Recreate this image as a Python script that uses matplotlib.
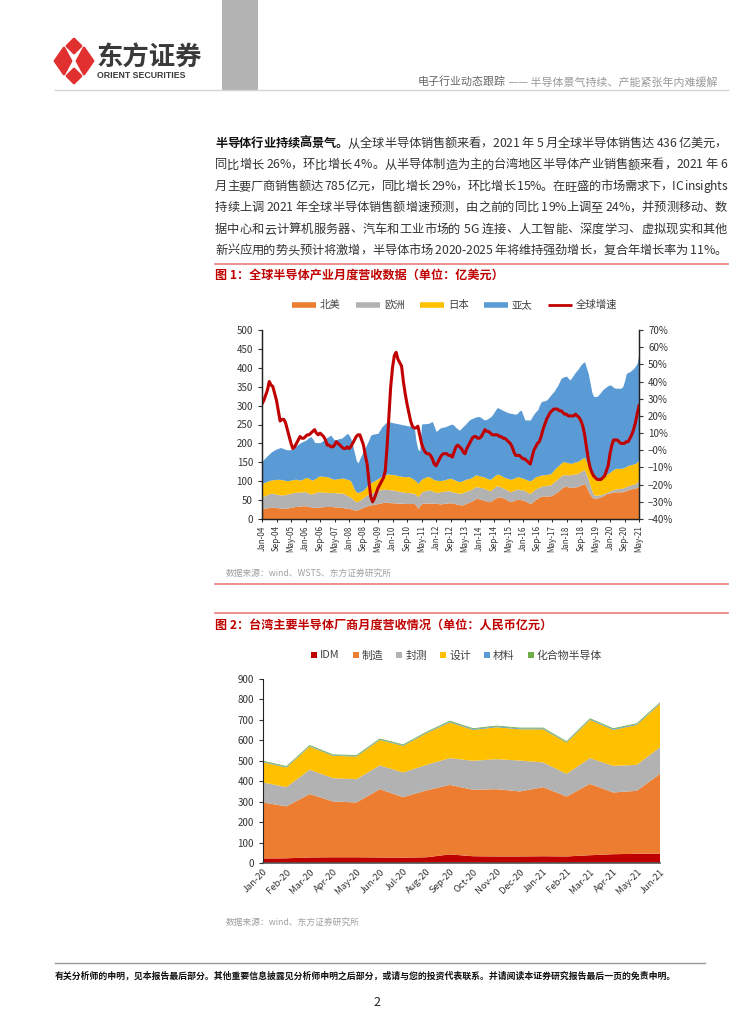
import matplotlib
matplotlib.use('Agg')
import matplotlib.pyplot as plt
import matplotlib.patches as mpatches
import matplotlib.ticker as mticker
import numpy as np
import pandas as pd

plt.rcParams['font.family'] = ['Noto Sans CJK SC', 'DejaVu Sans']

W, H = 754, 1024
RED = '#c00000'
ORANGE = '#ED7D31'
GRAY = '#B2B2B2'
YELLOW = '#FFC000'
BLUE = '#5B9BD5'
GREEN = '#70AD47'

# ---- figure 1: global monthly semiconductor sales (cumulative stack tops, 亿美元) ----
months1 = pd.date_range('2004-01-01', '2021-05-01', freq='MS').strftime('%b-%y').tolist()
na_top = [27, 28, 29, 30, 30, 31, 31, 31, 30, 30, 29, 29,
          28, 28, 29, 30, 31, 32, 33, 33, 34, 34, 35, 35,
          35, 34, 33, 32, 31, 31, 31, 31, 32, 32, 33, 33,
          33, 33, 33, 33, 32, 32, 32, 31, 31, 30, 29, 28,
          28, 27, 25, 24, 24, 25, 27, 29, 31, 33, 35, 36,
          37, 38, 39, 40, 41, 42, 43, 44, 44, 44, 44, 43,
          43, 43, 42, 42, 42, 42, 42, 41, 41, 41, 41, 41,
          41, 36, 28, 35, 41, 42, 42, 42, 42, 42, 42, 42,
          42, 41, 40, 40, 41, 42, 42, 43, 43, 42, 41, 40,
          39, 38, 37, 38, 40, 42, 44, 46, 48, 51, 54, 55,
          53, 52, 50, 49, 47, 46, 46, 50, 53, 56, 58, 58,
          57, 56, 54, 51, 48, 46, 47, 49, 51, 52, 52, 51,
          50, 48, 46, 43, 41, 44, 48, 52, 55, 58, 60, 61,
          61, 61, 61, 61, 63, 66, 69, 72, 76, 80, 84, 86,
          86, 85, 84, 84, 85, 85, 86, 88, 90, 92, 94, 85,
          74, 65, 58, 55, 55, 56, 57, 59, 61, 64, 67, 68,
          69, 70, 71, 72, 72, 72, 72, 72, 74, 76, 77, 79,
          80, 81, 82, 84, 86]
eu_top = [59, 61, 63, 65, 67, 68, 68, 67, 66, 65, 64, 64,
          64, 65, 66, 67, 68, 70, 70, 71, 71, 72, 72, 72,
          72, 70, 68, 66, 67, 69, 71, 72, 72, 71, 71, 71,
          70, 70, 70, 70, 70, 69, 69, 69, 68, 68, 65, 62,
          60, 58, 53, 48, 46, 47, 50, 53, 57, 61, 64, 66,
          68, 70, 72, 74, 76, 77, 78, 79, 79, 78, 78, 77,
          77, 76, 75, 74, 73, 72, 72, 71, 70, 70, 69, 68,
          68, 64, 59, 65, 72, 73, 75, 76, 77, 76, 74, 72,
          71, 70, 72, 73, 73, 74, 75, 75, 74, 72, 71, 70,
          69, 68, 68, 70, 72, 74, 76, 77, 80, 83, 86, 85,
          84, 83, 82, 80, 78, 76, 75, 79, 83, 87, 88, 86,
          84, 82, 80, 77, 74, 72, 74, 76, 78, 79, 78, 77,
          77, 75, 72, 69, 68, 72, 76, 80, 82, 84, 86, 88,
          88, 89, 90, 90, 94, 98, 102, 106, 110, 114, 117, 117,
          117, 117, 117, 118, 119, 119, 120, 123, 126, 129, 130, 118,
          105, 90, 75, 64, 63, 63, 64, 64, 66, 68, 70, 72,
          74, 76, 78, 79, 80, 81, 81, 82, 84, 86, 88, 89,
          91, 92, 94, 98, 103]
jp_top = [94, 96, 98, 100, 102, 103, 104, 104, 105, 105, 105, 104,
          103, 102, 101, 102, 103, 104, 105, 105, 104, 103, 104, 107,
          109, 110, 107, 104, 103, 106, 109, 112, 114, 113, 113, 112,
          112, 110, 108, 106, 105, 106, 107, 107, 108, 108, 106, 105,
          104, 100, 90, 78, 72, 70, 72, 74, 77, 82, 88, 93,
          96, 99, 101, 104, 107, 110, 113, 115, 117, 119, 119, 118,
          118, 117, 116, 115, 114, 113, 112, 112, 112, 112, 110, 107,
          104, 100, 94, 100, 105, 108, 110, 112, 112, 110, 107, 104,
          103, 102, 102, 102, 103, 104, 106, 107, 108, 106, 104, 102,
          100, 99, 100, 102, 104, 106, 107, 108, 111, 114, 117, 116,
          114, 113, 112, 110, 108, 106, 105, 109, 113, 117, 119, 117,
          115, 112, 110, 108, 107, 105, 106, 108, 110, 112, 111, 109,
          108, 106, 104, 102, 101, 104, 108, 112, 113, 115, 116, 117,
          117, 118, 119, 119, 124, 129, 135, 139, 143, 148, 152, 151,
          150, 149, 147, 148, 150, 151, 152, 155, 158, 161, 163, 152,
          140, 130, 120, 112, 109, 106, 104, 103, 108, 113, 118, 121,
          124, 128, 131, 134, 134, 134, 134, 135, 137, 139, 142, 143,
          144, 146, 147, 151, 156]
total = [152, 158, 163, 168, 172, 177, 180, 183, 185, 187, 189, 188,
         186, 184, 183, 183, 184, 186, 190, 194, 198, 201, 204, 206,
         208, 212, 216, 218, 212, 203, 202, 202, 202, 205, 209, 213,
         216, 219, 222, 215, 209, 210, 212, 213, 214, 218, 222, 227,
         222, 213, 195, 175, 155, 148, 160, 170, 180, 189, 200, 210,
         222, 224, 225, 226, 227, 235, 243, 248, 253, 257, 258, 256,
         255, 254, 253, 252, 251, 250, 249, 248, 247, 246, 246, 245,
         244, 205, 185, 180, 251, 252, 252, 253, 253, 256, 258, 245,
         232, 235, 240, 242, 243, 244, 246, 248, 250, 251, 247, 242,
         238, 235, 240, 245, 249, 255, 260, 264, 266, 268, 270, 271,
         271, 268, 264, 262, 264, 267, 270, 275, 282, 290, 295, 292,
         290, 287, 285, 283, 281, 280, 279, 278, 277, 280, 286, 288,
         275, 262, 262, 262, 262, 270, 278, 284, 288, 300, 310, 312,
         313, 315, 320, 326, 332, 337, 345, 352, 362, 372, 375, 377,
         378, 372, 368, 375, 382, 389, 394, 401, 408, 413, 416, 400,
         385, 360, 335, 324, 324, 325, 330, 336, 342, 346, 350, 353,
         355, 352, 348, 346, 346, 346, 346, 350, 365, 385, 388, 390,
         394, 398, 405, 412, 440]
growth = [27, 29, 32, 35, 40, 38, 37, 33, 29, 23, 17, 18,
          18, 16, 12, 8, 4, 1, 2, 4, 6, 8, 7, 7,
          8, 9, 9, 10, 11, 12, 10, 9, 10, 9, 8, 6,
          3, 3, 2, 2, 3, 5, 4, 3, 2, 1, 1, 2,
          1, 2, 4, 6, 8, 9, 9, 6, 3, -3, -8, -18,
          -27, -30, -28, -25, -22, -20, -18, -16, -12, 2, 20, 37,
          48, 55, 57, 53, 51, 49, 40, 33, 27, 22, 17, 14,
          13, 13, 14, 9, 4, 1, -1, -2, -2, -3, -5, -8,
          -9, -7, -5, -3, -2, -2, -2, -3, -3, -4, -1, 2,
          3, 2, 1, -1, -2, 1, 3, 5, 7, 8, 8, 7,
          7, 8, 10, 12, 11, 11, 10, 9, 9, 9, 9, 8,
          8, 7, 7, 6, 5, 4, 2, -1, -3, -3, -3, -4,
          -5, -5, -6, -7, -8, -4, 0, 2, 4, 5, 8, 12,
          15, 18, 20, 22, 23, 24, 24, 24, 23, 23, 22, 21,
          21, 20, 20, 20, 20, 21, 20, 19, 17, 14, 9, 2,
          -5, -10, -13, -15, -16, -17, -17, -17, -16, -15, -12, -9,
          -2, 3, 6, 6, 6, 5, 4, 4, 4, 5, 5, 7,
          9, 12, 16, 21, 26]
legend1 = ['北美', '欧洲', '日本', '亚太', '全球增速']

# ---- figure 2: Taiwan semiconductor makers monthly revenue (人民币亿元) ----
months2 = ['Jan-20', 'Feb-20', 'Mar-20', 'Apr-20', 'May-20', 'Jun-20', 'Jul-20', 'Aug-20', 'Sep-20',
           'Oct-20', 'Nov-20', 'Dec-20', 'Jan-21', 'Feb-21', 'Mar-21', 'Apr-21', 'May-21', 'Jun-21']
idm = [22, 23, 27, 28, 28, 27, 26, 28, 42, 33, 32, 32, 33, 32, 38, 43, 45, 46]
manufacture = [274, 254, 310, 273, 268, 334, 296, 327, 340, 325, 329, 318, 338, 293, 349, 302, 308, 390]
packaging = [98, 94, 119, 114, 114, 116, 121, 125, 131, 142, 147, 151, 121, 111, 126, 130, 127, 130]
design = [99, 96, 114, 109, 111, 125, 130, 155, 175, 151, 156, 153, 162, 153, 187, 176, 195, 212]
material = [3, 3, 3, 3, 3, 3, 3, 3, 4, 4, 4, 4, 4, 3, 4, 4, 4, 4]
compound = [4, 4, 4, 4, 4, 4, 4, 4, 4, 4, 4, 4, 4, 4, 4, 4, 4, 4]
legend2 = ['IDM', '制造', '封测', '设计', '材料', '化合物半导体']

body = [
    [('半导体行业持续高景气。', 'bold', '#111111'),
     ('从全球半导体销售额来看，2021 年 5 月全球半导体销售达 436 亿美元，', 'normal', '#333333')],
    [('同比增长 26%，环比增长 4%。从半导体制造为主的台湾地区半导体产业销售额来看，2021 年 6', 'normal', '#333333')],
    [('月主要厂商销售额达 785 亿元，同比增长 29%，环比增长 15%。在旺盛的市场需求下，IC insights', 'normal', '#333333')],
    [('持续上调 2021 年全球半导体销售额增速预测，由之前的同比 19%上调至 24%，并预测移动、数', 'normal', '#333333')],
    [('据中心和云计算机服务器、汽车和工业市场的 5G 连接、人工智能、深度学习、虚拟现实和其他', 'normal', '#333333')],
    [('新兴应用的势头预计将激增，半导体市场 2020-2025 年将维持强劲增长，复合年增长率为 11%。', 'normal', '#333333')],
]

fig = plt.figure(figsize=(W / 100, H / 100), dpi=100)
page = fig.add_axes([0, 0, 1, 1])
page.set_xlim(0, W)
page.set_ylim(H, 0)
page.axis('off')
renderer = fig.canvas.get_renderer()


def ax_rect(x0, y0, x1, y1):
    return [x0 / W, 1 - y1 / H, (x1 - x0) / W, (y1 - y0) / H]


def justified(y, segments, x0, x1, size):
    texts = []
    for s, weight, color in segments:
        for ch in s:
            texts.append(page.text(0, y, ch, fontsize=size, fontweight=weight, color=color,
                                   va='baseline', ha='left'))
    widths = []
    for t in texts:
        if t.get_text() == ' ':
            widths.append(size * 0.3)
        else:
            widths.append(t.get_window_extent(renderer).width)
    extra = (x1 - x0 - sum(widths)) / (len(texts) - 1)
    x = x0
    for t, w in zip(texts, widths):
        t.set_x(x)
        x += w + extra


# header
page.add_patch(mpatches.Rectangle((222, 0), 36, 90, color='#b3b3b3', lw=0))
for pts in ([(74, 39), (81, 46), (74, 53), (67, 46)],
            [(74, 69), (81, 76), (74, 83), (67, 76)],
            [(55, 61), (64, 48), (71, 61), (64, 74)],
            [(93, 61), (84, 48), (77, 61), (84, 74)]):
    page.add_patch(mpatches.Polygon(pts, closed=True, color='#e03030', lw=2, joinstyle='round'))
page.text(96, 58, '东方证券', fontsize=19, fontweight='bold', color='#3a3a3a', va='center', ha='left')
page.text(97, 76, 'ORIENT SECURITIES', fontsize=6.3, fontweight='bold', color='#3a3a3a',
          va='center', ha='left', family='Liberation Sans')
t = page.text(418, 82, '电子行业动态跟踪', fontsize=7.9, color='#666666', va='center', ha='left')
wd = t.get_window_extent(renderer).width
page.text(418 + wd, 82, ' —— 半导体景气持续、产能紧张年内难缓解', fontsize=7.9, color='#999999',
          va='center', ha='left')
page.plot([55, 728], [90, 90], color='#d4d4d4', lw=1)

# body paragraph
for i, segs in enumerate(body):
    justified(147 + i * 21.4, segs, 215, 727, 8.8)

# figure 1 title + legend
page.plot([215, 728], [264, 264], color='#e87c7c', lw=1.2)
page.text(215, 275, '图 1：全球半导体产业月度营收数据（单位：亿美元）', fontsize=8.7, fontweight='bold',
          color=RED, va='center', ha='left')
colors1 = [ORANGE, GRAY, YELLOW, BLUE, RED]
for k, (lab, col) in enumerate(zip(legend1, colors1)):
    lx = 292 + k * 64
    page.plot([lx, lx + 24], [305, 305], color=col, lw=4 if k < 4 else 2, solid_capstyle='butt')
    page.text(lx + 28, 305, lab, fontsize=7.5, color='#404040', va='center', ha='left')

ax1 = fig.add_axes(ax_rect(262, 330, 639, 519))
x1 = np.arange(len(months1))
ax1.fill_between(x1, 0, na_top, color=ORANGE, lw=0)
ax1.fill_between(x1, na_top, eu_top, color=GRAY, lw=0)
ax1.fill_between(x1, eu_top, jp_top, color=YELLOW, lw=0)
ax1.fill_between(x1, jp_top, total, color=BLUE, lw=0)
ax1.set_xlim(0, len(months1) - 1)
ax1.set_ylim(0, 500)
ax1.set_yticks(range(0, 501, 50))
ax1.set_xticks(x1[::8])
ax1.set_xticklabels(months1[::8], rotation=90, fontsize=5.8, color='#333333')
ax1.tick_params(axis='y', labelsize=7, colors='#333333', length=3, width=0.8, direction='out')
ax1.tick_params(axis='x', length=2, width=0.6, pad=2.5)
ax1.spines['top'].set_visible(False)
for s in ('left', 'right', 'bottom'):
    ax1.spines[s].set_linewidth(0.9)
    ax1.spines[s].set_color('#222222')

ax1b = ax1.twinx()
ax1b.plot(x1, np.array(growth) / 100, color=RED, lw=2.2)
ax1b.set_ylim(-0.4, 0.7)
ax1b.set_yticks(np.arange(-0.4, 0.71, 0.1))
ax1b.yaxis.set_major_formatter(mticker.PercentFormatter(1.0, decimals=0))
ax1b.tick_params(axis='y', labelsize=7, colors='#333333', length=3, width=0.8, direction='out')
ax1b.spines['top'].set_visible(False)
for s in ('left', 'right', 'bottom'):
    ax1b.spines[s].set_linewidth(0.9)
    ax1b.spines[s].set_color('#222222')

page.text(226, 573, '数据来源：wind、WSTS、东方证券研究所', fontsize=6.3, color='#a0a0a0', va='center', ha='left')
page.plot([215, 728], [584, 584], color='#e87c7c', lw=1.2)

# figure 2
page.plot([215, 728], [613, 613], color='#e87c7c', lw=1.2)
page.text(215, 625, '图 2：台湾主要半导体厂商月度营收情况（单位：人民币亿元）', fontsize=8.7, fontweight='bold',
          color=RED, va='center', ha='left')
colors2 = [RED, ORANGE, GRAY, YELLOW, BLUE, GREEN]
lx = 311
for lab, col in zip(legend2, colors2):
    page.add_patch(mpatches.Rectangle((lx, 652), 6, 6, color=col, lw=0))
    t = page.text(lx + 9, 655.5, lab, fontsize=7.8, color='#404040', va='center', ha='left')
    lx += 9 + t.get_window_extent(renderer).width + 13

ax2 = fig.add_axes(ax_rect(263, 679, 660, 863))
x2 = np.arange(len(months2))
ax2.stackplot(x2, idm, manufacture, packaging, design, material, compound,
              colors=colors2, lw=0)
ax2.set_xlim(0, len(months2) - 1)
ax2.set_ylim(0, 900)
ax2.set_yticks(range(0, 901, 100))
ax2.set_xticks(x2)
ax2.set_xticklabels(months2, rotation=45, ha='right', rotation_mode='anchor', fontsize=6.8, color='#333333')
ax2.tick_params(axis='y', labelsize=7, colors='#333333', length=3, width=0.8, direction='out')
ax2.tick_params(axis='x', length=0, pad=3)
ax2.spines['top'].set_visible(False)
ax2.spines['right'].set_visible(False)
ax2.spines['left'].set_color('#222222')
ax2.spines['bottom'].set_color('#555555')
ax2.spines['bottom'].set_linewidth(1.2)

page.text(226, 922, '数据来源：wind、东方证券研究所', fontsize=6.3, color='#a0a0a0', va='center', ha='left')

# footer
page.plot([55, 705], [963, 963], color='#9a9a9a', lw=1)
page.text(55, 976, '有关分析师的申明，见本报告最后部分。其他重要信息披露见分析师申明之后部分，或请与您的投资代表联系。并请阅读本证券研究报告最后一页的免责申明。',
          fontsize=6.4, fontweight='bold', color='#111111', va='center', ha='left')
page.text(377, 1003, '2', fontsize=9, color='#222222', va='center', ha='center')

fig.savefig('out.png', dpi=100)
